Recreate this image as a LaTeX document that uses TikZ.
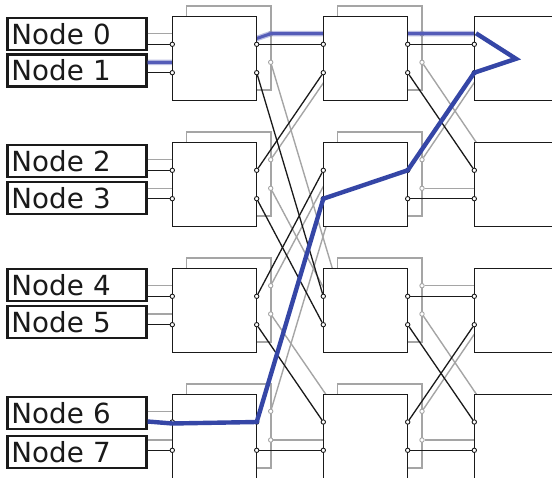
\documentclass[tikz,border=0pt]{standalone}
\usepackage{fontspec}
\setmainfont{DejaVu Sans}
\definecolor{wirecolor}{RGB}{26,26,26}
\definecolor{backcolor}{RGB}{165,165,165}
\definecolor{routecolor}{RGB}{53,70,166}
\definecolor{fadecolor}{RGB}{84,92,184}

\begin{document}
\begin{tikzpicture}[x=1pt, y=-1pt, line width=1.3pt,
		main/.style = {draw=wirecolor, fill=white, minimum size=84.4pt, inner sep=0pt},
		back/.style = {draw=backcolor, line width=1.6pt, fill=white, minimum size=84.4pt, inner sep=0pt},
		label/.style = {draw=wirecolor, line width=2.2pt, fill=white, minimum height=32pt, text width=131pt, inner sep=4pt, text=wirecolor, font=\fontsize{27.7}{30}\selectfont},
		port/.style = {draw=wirecolor, circle, fill=white, minimum size=4.4pt, inner sep=0pt, line width=0.9pt},
		backport/.style = {port, draw=backcolor},
		wire/.style = {draw=wirecolor},
		backwire/.style = {draw=backcolor, line width=1.4pt},
		route/.style = {draw=routecolor, line width=4.4pt}]
	\clip (0,0) rectangle (552,478);

	\node[label] (Node0) at (77,34.3) {Node 0};
	\node[label] (Node1) at (77,70.5) {Node 1};
	\node[label] (Node2) at (77,161) {Node 2};
	\node[label] (Node3) at (77,198) {Node 3};
	\node[label] (Node4) at (77,284.7) {Node 4};
	\node[label] (Node5) at (77,322) {Node 5};
	\node[label] (Node6) at (77,412.8) {Node 6};
	\node[label] (Node7) at (77,452) {Node 7};

	% layer behind
	\foreach \row/\y in {0/48, 1/174, 2/300, 3/426} {
		\node[back] (BackA\row) at (228.5,\y) {};
		\node[back] (BackB\row) at (379.8,\y) {};
	}
	\foreach \i/\y in {0/33.7, 1/62.3, 2/159.7, 3/188.3, 4/285.7, 5/314, 6/411.3, 7/440} {
		\coordinate (ga\i) at (186.7,\y);
		\node[backport] (gb\i) at (270.7,\y) {};
		\coordinate (gc\i) at (337.5,\y);
		\node[backport] (gd\i) at (422,\y) {};
		\coordinate (ge\i) at (488,\y);
	}
	\foreach \i in {0,...,7}
		\draw[backwire] (Node\i.east |- ga\i) -- (ga\i);
	\foreach \p/\q in {0/0, 1/4, 2/1, 3/5, 4/2, 5/6, 6/3, 7/7}
		\draw[backwire] (gb\p) -- (gc\q);
	\foreach \p/\q in {0/0, 1/2, 2/1, 3/3, 4/4, 5/6, 6/5, 7/7}
		\draw[backwire] (gd\p) -- (ge\q);

	% faded part of the route
	\draw[draw=fadecolor, line width=5.5pt, opacity=0.4] (Node1.east |- ga1) -- (ga1) -- (gb0.center) -- (gc0) -- (gd0.center) -- (ge0);
	\draw[draw=fadecolor, line width=3pt] (Node1.east |- ga1) -- (ga1) -- (gb0.center) -- (gc0) -- (gd0.center) -- (ge0);

	% layer in front
	\foreach \col/\x in {A/214.5, B/365.5, C/516.5} {
		\node[main] (\col0) at (\x,58.5) {};
		\node[main] (\col1) at (\x,184.5) {};
		\node[main] (\col2) at (\x,310.5) {};
		\node[main] (\col3) at (\x,436.5) {};
	}
	\foreach \i/\y in {0/44.3, 1/72.7, 2/170.3, 3/198.7, 4/296.3, 5/324.7, 6/422, 7/450.3} {
		\node[port] (a\i) at (172.3,\y) {};
		\node[port] (b\i) at (256.7,\y) {};
		\node[port] (c\i) at (323.3,\y) {};
		\node[port] (d\i) at (407.7,\y) {};
		\node[port] (e\i) at (474.3,\y) {};
	}
	\foreach \i in {0,...,7}
		\draw[wire] (Node\i.east |- a\i) -- (a\i);
	\foreach \p/\q in {0/0, 1/4, 2/1, 3/5, 4/2, 5/6, 6/3, 7/7}
		\draw[wire] (b\p) -- (c\q);
	\foreach \p/\q in {0/0, 1/2, 2/1, 3/3, 4/4, 5/6, 6/5, 7/7}
		\draw[wire] (d\p) -- (e\q);

	\coordinate (RouteTip) at (516,58.8);
	\coordinate (RouteTop) at (476,33.3);
	\coordinate (RouteIn) at (172.3,423.5);
	\draw[route] (RouteTop) -- (RouteTip) -- (e1.center) -- (d2.center) -- (c3.center) -- (b6.center) -- (RouteIn) -- (Node6.east |- 0,421.5);
\end{tikzpicture}
\end{document}
